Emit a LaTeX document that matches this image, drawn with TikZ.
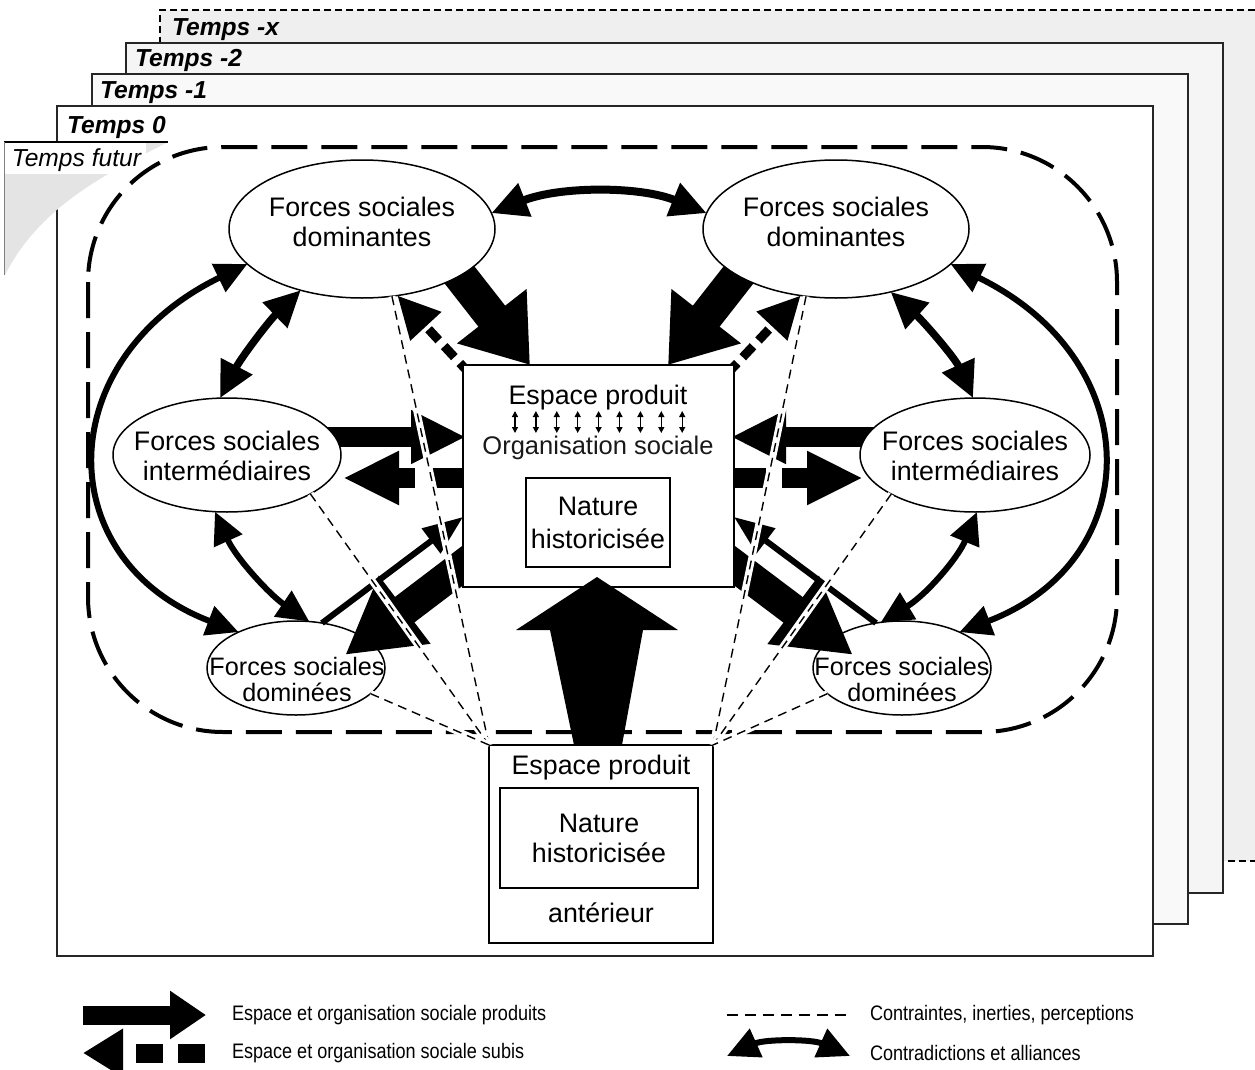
\documentclass[tikz,border=0pt]{standalone}
\usepackage{fontspec}
\setmainfont{Liberation Sans}
\newfontfamily\legfont[FakeStretch=0.86]{Liberation Sans}
\usetikzlibrary{arrows.meta,shapes.geometric,calc}
\pgfdeclarelayer{bg}
\pgfdeclarelayer{back}
\pgfdeclarelayer{front}
\pgfsetlayers{bg,back,main,front}
\definecolor{pgx}{HTML}{EFEFEF}
\definecolor{pgtwo}{HTML}{F5F5F5}
\definecolor{pgone}{HTML}{F9F9F9}
\definecolor{curl}{HTML}{E4E4E4}
\newcommand\fMain{\fontsize{26.8}{30}\selectfont}
\newcommand\fDom{\fontsize{25.2}{26}\selectfont}
\newcommand\fLeg{\legfont\fontsize{21}{22}\selectfont}
\newcommand\fTemps{\fontsize{24.6}{26}\selectfont}
\begin{document}
\begin{tikzpicture}[x=1pt,y=-1pt,
  every node/.style={inner sep=0pt,outer sep=0pt},
  pagebox/.style={draw=black!85,line width=1.5pt},
  tlabel/.style={anchor=base west,font=\fTemps\bfseries\itshape},
  fsell/.style={ellipse,draw,line width=1.5pt,fill=white},
  fstxt/.style={align=center,font=\fMain},
  boxn/.style={rectangle,draw,line width=2pt,fill=white},
  prod/.style n args={3}{line width=#1,-{Triangle[length=#2,width=#3]}},
  subis/.style n args={4}{line width=#1,-{Triangle[length=#2,width=#3]},dash pattern=#4},
  contra/.style={line width=6pt,{Triangle[length=32pt,width=30pt]}-{Triangle[length=32pt,width=30pt]}},
  contrab/.style={line width=7.5pt,{Triangle[length=36pt,width=34pt]}-{Triangle[length=36pt,width=34pt]}},
  cline/.style={preaction={draw=white,line width=7pt},draw=black,line width=1.4pt,dash pattern=on 9pt off 6pt},
  legt/.style={anchor=west,font=\fLeg}]
\useasboundingbox (0,0) rectangle (1255,1070);

% ---------------- pages ----------------
\begin{pgfonlayer}{bg}
  \fill[white] (0,0) rectangle (1255,1070);
  \fill[pgx] (160,10) rectangle (1255,861);
  \draw[line width=1.3pt,dash pattern=on 7pt off 4pt] (1255,10) -- (160,10) -- (160,861) -- (1255,861);
  \draw[pagebox,fill=pgtwo] (126,43) rectangle (1223,893);
  \draw[pagebox,fill=pgone] (92,74) rectangle (1188,924);
  \draw[pagebox,fill=white] (57,106) rectangle (1153,956);
  \node[tlabel] (tx) at (172,36) {Temps -x};
  \node[tlabel] (t2) at (135,67) {Temps -2};
  \node[tlabel] (t1) at (100,99) {Temps -1};
  \node[tlabel] (t0) at (67,133) {Temps 0};
  % future page (curled)
  \fill[curl] (4,142) -- (168,142) .. controls (110,172) and (40,205) .. (5,275) -- (4,275) -- cycle;
  \fill[white] (4,142) rectangle (146,174);
  \draw[line width=1.3pt] (4,142) -- (168,142);
  \draw[black!50,line width=1pt] (4,142) -- (4,275);
  \node[anchor=base west,font=\fTemps\itshape] (tf) at (12,166) {Temps futur};
  % dashed domain
  \draw[line width=4pt,dash pattern=on 36pt off 14pt,rounded corners=135pt] (88,147) rectangle (1117,732);
\end{pgfonlayer}

% ---------------- central box ----------------
\begin{pgfonlayer}{front}
  \node[boxn,minimum width=271pt,minimum height=222pt] (cb) at (598.5,476) {};
  \node[font=\fMain] (cbt) at (598,398) {Espace produit};
  \foreach \k in {0,...,8}
    \draw[line width=1.3pt,{Triangle[length=6pt,width=6pt]}-{Triangle[length=6pt,width=6pt]}]
      (515+\k*20.9,411) -- (515+\k*20.9,433);
  \node[font=\fontsize{25.5}{28}\selectfont,text=black!90] (cbo) at (598,448) {Organisation sociale};
  \node[boxn,minimum width=144pt,minimum height=89pt,align=center,font=\fontsize{26.8}{33}\selectfont] (cn) at (598,522.5) {Nature\\historicisée};
\end{pgfonlayer}

% ---------------- ellipses ----------------
\node[fsell,minimum width=266pt,minimum height=138pt] (tl) at (362,229) {};
\node[fstxt] (tlt) at (362,222) {Forces sociales\\dominantes};
\node[fsell,minimum width=266pt,minimum height=138pt] (tr) at (836,229) {};
\node[fstxt] (trt) at (836,222) {Forces sociales\\dominantes};
\node[fsell,minimum width=228pt,minimum height=114pt] (ml) at (227,455) {};
\node[fstxt] (mlt) at (227,455.5) {Forces sociales\\intermédiaires};
\node[fsell,minimum width=230pt,minimum height=114pt] (mr) at (975,455) {};
\node[fstxt] (mrt) at (975,455.5) {Forces sociales\\intermédiaires};
\node[fsell,minimum width=178pt,minimum height=94pt] (bl) at (296,668) {};
\node[align=center,font=\fDom] (blt) at (297,679) {Forces sociales\\dominées};
\node[fsell,minimum width=178pt,minimum height=94pt] (br) at (902,668) {};
\node[align=center,font=\fDom] (brt) at (902,679) {Forces sociales\\dominées};

% ---------------- bottom box ----------------
\node[boxn,minimum width=224pt,minimum height=198pt] (bb) at (601,844) {};
\node[font=\fMain] (bbt) at (601,768) {Espace produit};
\node[boxn,minimum width=198pt,minimum height=100pt,align=center,font=\fMain] (bn) at (599,838) {Nature\\historicisée};
\node[font=\fMain] (bba) at (601,913) {antérieur};

% ---------------- produced arrows (tails under ellipses) ----------------
\coordinate (p1) at (440,250);
\coordinate (p2) at (758,250);
\coordinate (p3) at (300,437);
\coordinate (p4) at (900,437);
\begin{pgfonlayer}{back}
  \draw[prod={34pt}{62pt}{84pt}] (p1) -- ([xshift=67pt]cb.north west);
  \draw[prod={34pt}{62pt}{84pt}] (p2) -- ([xshift=-66pt]cb.north east);
  \draw[prod={20pt}{55pt}{50pt}] (p3) -- ([xshift=3pt,yshift=39pt]cb.west);
  \draw[prod={20pt}{55pt}{50pt}] (p4) -- ([xshift=-3pt,yshift=39pt]cb.east);
\end{pgfonlayer}

% ---------------- contradictions and alliances ----------------
\draw[contrab,line width=8pt] (tl.7) .. controls (560,186) and (640,186) .. (tr.173);
\draw[contrab] (tl.-135) .. controls (268,322) and (241,358) .. (ml.97);
\draw[contra] (ml.-102) .. controls (236,558) and (270,595) .. (bl.74);
\draw[contra] (tl.-163) .. controls (50,360) and (50,560) .. (bl.148);
\draw[contrab] (tr.-49) .. controls (924,322) and (955,358) .. (mr.92);
\draw[contra] (mr.-88) .. controls (958,558) and (926,595) .. (br.115);
\draw[contra] (tr.-17) .. controls (1148,360) and (1148,560) .. (br.32);

% ---------------- undergone arrows ----------------
\coordinate (s5) at (343,478);
\coordinate (s6) at (863,478);
\draw[subis={20pt}{56pt}{50pt}{on 32pt off 16pt on 100pt}] ([yshift=-2pt]cb.west) -- (s5);
\draw[subis={20pt}{56pt}{50pt}{on 32pt off 16pt on 100pt}] ([yshift=-2pt]cb.east) -- (s6);
\draw[subis={9pt}{42pt}{40pt}{on 15pt off 8pt}] ([xshift=7pt,yshift=-9pt]cb.north west) -- (tl.-62);
\draw[subis={9pt}{42pt}{40pt}{on 15pt off 8pt}] ([xshift=-7pt,yshift=-9pt]cb.north east) -- (tr.-118);

% dominated -> central box
\draw[line width=6pt,-{Triangle[length=40pt,width=30pt]}] (bl.60) -- ([yshift=-41pt]cb.west);
\draw[line width=6pt,-{Triangle[length=40pt,width=30pt]}] (br.120) -- ([yshift=-41pt]cb.east);

% central box -> dominated
\coordinate (d11) at (345,655);
\coordinate (d12) at (853,655);
\draw[prod={32pt}{75pt}{80pt}] ([xshift=15pt,yshift=-78pt]cb.west) -- (d11);
\draw[prod={32pt}{75pt}{80pt}] ([xshift=-15pt,yshift=-78pt]cb.east) -- (d12);

% ---------------- front: big arrow and constraints ----------------
\begin{pgfonlayer}{front}
  \fill ([xshift=-27pt]bb.north) -- ([xshift=-48.5pt,yshift=-43pt]cb.south)
     -- ([xshift=-82.5pt,yshift=-43pt]cb.south) -- ([xshift=-1.5pt,yshift=10pt]cb.south)
     -- ([xshift=79.5pt,yshift=-43pt]cb.south) -- ([xshift=44.5pt,yshift=-43pt]cb.south)
     -- ([xshift=21pt]bb.north) -- cycle;
  \draw[cline] (tl.-66) -- (bb.north west);
  \draw[cline] (ml.-25) -- (bb.north west);
  \draw[cline] (bl.-19) -- (bb.north west);
  \draw[cline] (tr.-114) -- (bb.north east);
  \draw[cline] (mr.-155) -- (bb.north east);
  \draw[cline] (br.-161) -- (bb.north east);
\end{pgfonlayer}

% ---------------- legend ----------------
\coordinate (lga) at (83,1015);
\coordinate (lgb) at (206,1015);
\draw[prod={19pt}{36pt}{46pt}] (lga) -- (lgb);
\node[legt] (lgt1) at (232,1015) {Espace et organisation sociale produits};
\coordinate (lsa) at (205,1053);
\coordinate (lsb) at (83,1053);
\draw[subis={19pt}{40pt}{46pt}{on 27pt off 15pt on 27pt off 100pt}] (lsa) -- (lsb);
\node[legt] (lgt2) at (232,1053) {Espace et organisation sociale subis};
\coordinate (lda) at (727,1015);
\coordinate (ldb) at (850,1015);
\draw[line width=1.5pt,dash pattern=on 11pt off 7pt] (lda) -- (ldb);
\node[legt] (lgt3) at (870,1015) {Contraintes, inerties, perceptions};
\coordinate (lca) at (727,1056);
\coordinate (lcb) at (850,1056);
\draw[contra] (lca) .. controls (765,1039) and (812,1039) .. (lcb);
\node[legt] (lgt4) at (870,1053) {Contradictions et alliances};
\end{tikzpicture}
\end{document}
